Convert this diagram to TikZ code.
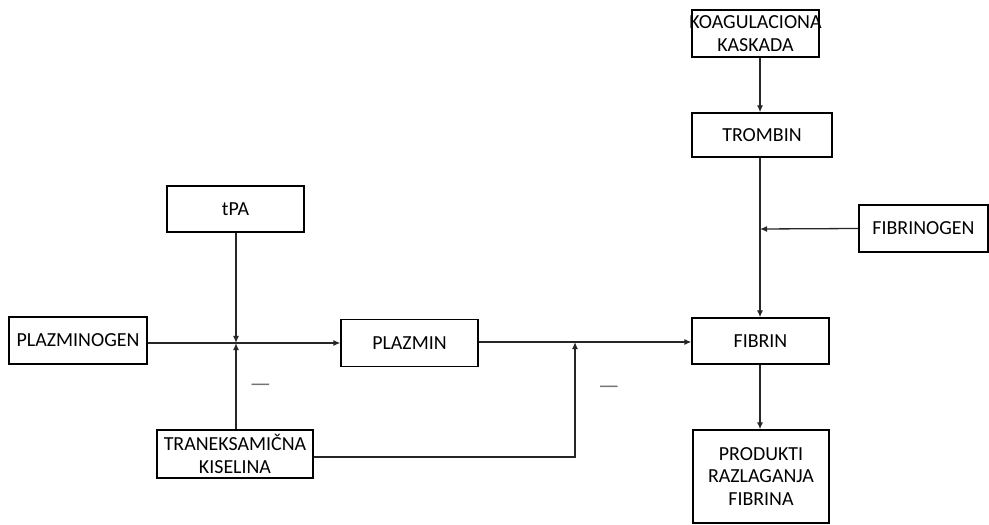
\documentclass[tikz,border=0pt]{standalone}
\usepackage{fontspec}
\setmainfont{Carlito}
\usetikzlibrary{arrows.meta}
\begin{document}
\begin{tikzpicture}[x=1bp,y=-1bp,
  box/.style={draw=black, line width=1.3bp, inner sep=0pt, align=center, font=\fontsize{20}{23}\selectfont},
  conn/.style={line width=1.3bp, draw=black!85, -{Latex[length=7bp,width=6bp]}},
  minus/.style={text=black!55, font=\fontsize{24}{24}\selectfont, inner sep=0pt}]
\path[use as bounding box] (0,0) rectangle (989,525);
\node[box, minimum width=127bp, minimum height=47bp] (koag) at (755.5,33.5) {\makebox[0pt]{KOAGULACIONA}\\KASKADA};
\node[box, minimum width=140bp, minimum height=44bp] (trombin) at (762,135) {TROMBIN};
\node[box, minimum width=129bp, minimum height=47bp] (fibrinogen) at (923.5,228.5) {FIBRINOGEN};
\node[box, minimum width=137bp, minimum height=46bp] (fibrin) at (760.5,341) {FIBRIN};
\node[box, minimum width=136bp, minimum height=93bp] (produkti) at (761,476.5) {PRODUKTI\\RAZLAGANJA\\FIBRINA};
\node[box, minimum width=137bp, minimum height=46bp] (tpa) at (235.5,209) {tPA};
\node[box, minimum width=138bp, minimum height=47bp] (plazminogen) at (78,340.5) {PLAZMINOGEN};
\node[box, minimum width=137bp, minimum height=47bp] (plazmin) at (409.5,343) {PLAZMIN};
\node[box, minimum width=156bp, minimum height=48bp] (tranex) at (235,454) {TRANEKSAMIČNA\\KISELINA};
\coordinate (j1) at (760,229);
\coordinate (j2) at (236,343);
\coordinate (j3) at (575,342);
\coordinate (c1) at (575,457);
\draw[conn] (koag.south -| j1) -- (trombin.north -| j1);
\draw[conn] (trombin.south -| j1) -- (fibrin.north -| j1);
\draw[conn] (fibrinogen.west) -- (j1);
\draw[conn] (fibrin.south -| j1) -- (produkti.north -| j1);
\draw[conn] (plazminogen.east |- j2) -- (plazmin.west |- j2);
\draw[conn] (tpa.south -| j2) -- (j2);
\draw[conn] (tranex.north -| j2) -- (j2);
\draw[conn] (plazmin.east |- j3) -- (fibrin.west |- j3);
\draw[conn] (tranex.east |- c1) -- (c1) -- (j3);
\node[minus] (m1) at (260.5,388) {—};
\node[minus] (m2) at (609,390) {—};
\end{tikzpicture}
\end{document}
